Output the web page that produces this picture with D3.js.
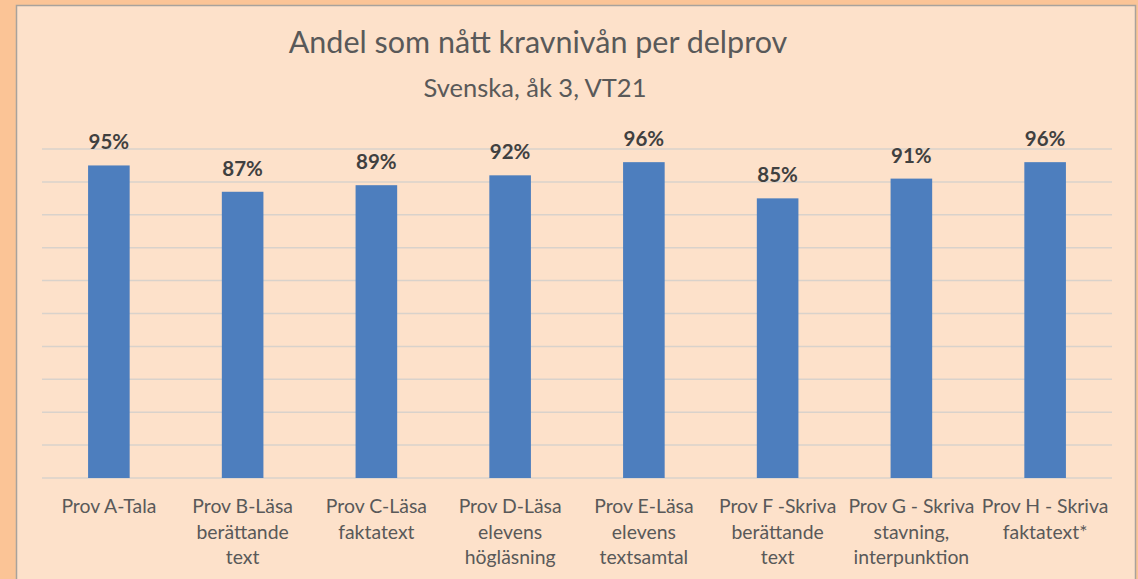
<!DOCTYPE html>
<html>
<head>
<meta charset="utf-8">
<script src="https://cdn.jsdelivr.net/npm/d3@7"></script>
<style>
  html, body { margin: 0; padding: 0; background: #FBC496; }
  svg { display: block; }
</style>
</head>
<body>
<svg id="chart" width="1138" height="579"></svg>
<script>
// Share of pupils reaching the required level, per sub-test
const categories = [
  ["Prov A-Tala"],
  ["Prov B-Läsa", "berättande", "text"],
  ["Prov C-Läsa", "faktatext"],
  ["Prov D-Läsa", "elevens", "högläsning"],
  ["Prov E-Läsa", "elevens", "textsamtal"],
  ["Prov F -Skriva", "berättande", "text"],
  ["Prov G - Skriva", "stavning,", "interpunktion"],
  ["Prov H - Skriva", "faktatext*"]
];
const values = [95, 87, 89, 92, 96, 85, 91, 96];
const gridTicks = [0, 10, 20, 30, 40, 50, 60, 70, 80, 90, 100];
const title = "Andel som nått kravnivån per delprov";
const subtitle = "Svenska, åk 3, VT21";

const svg = d3.select("#chart");
const font = "Lato, 'Open Sans', sans-serif";

// chart frame
svg.append("rect")
  .attr("x", 16.5).attr("y", 5.5)
  .attr("width", 1119).attr("height", 600)
  .attr("fill", "#FDE1CA")
  .attr("stroke", "#A8A29C").attr("stroke-width", 1.5);

const plot = { left: 42, right: 1112, top: 149, bottom: 478 };

const x = d3.scaleBand()
  .domain(categories.map((d, i) => i))
  .range([plot.left, plot.right])
  .paddingInner(0.689).paddingOuter(0.3445);

const y = d3.scaleLinear().domain([0, 100]).range([plot.bottom, plot.top]);

// horizontal gridlines
svg.append("g")
  .selectAll("line")
  .data(gridTicks)
  .join("line")
  .attr("x1", plot.left).attr("x2", plot.right)
  .attr("y1", d => y(d)).attr("y2", d => y(d))
  .attr("stroke", "#D9D2CB").attr("stroke-width", 1.5);

// bars
svg.append("g")
  .selectAll("rect")
  .data(values)
  .join("rect")
  .attr("x", (d, i) => x(i))
  .attr("y", d => y(d))
  .attr("width", x.bandwidth())
  .attr("height", d => y(0) - y(d))
  .attr("fill", "#4D7EBE");

// value labels
svg.append("g")
  .selectAll("text")
  .data(values)
  .join("text")
  .attr("x", (d, i) => x(i) + x.bandwidth() / 2)
  .attr("y", d => y(d) - 16)
  .attr("text-anchor", "middle")
  .attr("font-family", font)
  .attr("font-weight", "bold")
  .attr("font-size", 20.5)
  .attr("fill", "#404040")
  .text(d => d + "%");

// category labels, multi-line
const catG = svg.append("g")
  .selectAll("text")
  .data(categories)
  .join("text")
  .attr("text-anchor", "middle")
  .attr("font-family", font)
  .attr("font-size", 19.4)
  .attr("fill", "#595959");
catG.selectAll("tspan")
  .data((d, i) => d.map(line => ({ line, i })))
  .join("tspan")
  .attr("x", d => x(d.i) + x.bandwidth() / 2)
  .attr("y", (d, j) => 513 + j * 25.5)
  .text(d => d.line);

// titles
svg.append("text")
  .attr("x", 538).attr("y", 53)
  .attr("text-anchor", "middle")
  .attr("font-family", font)
  .attr("font-size", 30.5)
  .attr("fill", "#595959")
  .text(title);

svg.append("text")
  .attr("x", 535).attr("y", 97)
  .attr("text-anchor", "middle")
  .attr("font-family", font)
  .attr("font-size", 25.5)
  .attr("fill", "#595959")
  .text(subtitle);
</script>
</body>
</html>
